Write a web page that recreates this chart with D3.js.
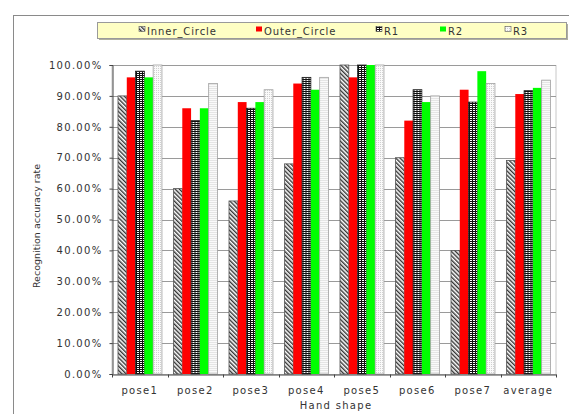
<!DOCTYPE html>
<html>
<head>
<meta charset="utf-8">
<script src="https://cdn.jsdelivr.net/npm/d3@7"></script>
<style>
  html, body { margin: 0; padding: 0; background: #fff; }
  svg { display: block; }
  text { font-family: "DejaVu Sans", sans-serif; fill: #333; }
</style>
</head>
<body>
<svg id="chart" width="569" height="414"></svg>
<script>
// Recognition accuracy per hand shape (percent)
const categories = ["pose1", "pose2", "pose3", "pose4", "pose5", "pose6", "pose7", "average"];
const seriesNames = ["Inner_Circle", "Outer_Circle", "R1", "R2", "R3"];
const innerCircle = [90, 60, 56, 68, 100, 70, 40, 69.1];
const outerCircle = [96, 86, 88, 94, 96, 82, 92, 90.6];
const r1 = [98, 82, 86, 96, 100, 92, 88, 91.7];
const r2 = [96, 86, 88, 92, 100, 88, 98, 92.6];
const r3 = [100, 94, 92, 96, 100, 90, 94, 95.1];
const yTicks = [0, 10, 20, 30, 40, 50, 60, 70, 80, 90, 100];
const xTitle = "Hand shape";
const yTitle = "Recognition accuracy rate";

const seriesValues = [innerCircle, outerCircle, r1, r2, r3];

const svg = d3.select("#chart");
const defs = svg.append("defs");

// Fill patterns for the monochrome series
const hatch = defs.append("pattern").attr("id", "hatch")
  .attr("patternUnits", "userSpaceOnUse").attr("width", 3).attr("height", 3)
  .attr("patternTransform", "rotate(-45)");
hatch.append("rect").attr("width", 3).attr("height", 3).attr("fill", "#fff");
hatch.append("rect").attr("width", 1.4).attr("height", 3).attr("fill", "#333");

const grid = defs.append("pattern").attr("id", "grid")
  .attr("patternUnits", "userSpaceOnUse").attr("width", 3).attr("height", 2);
grid.append("rect").attr("width", 3).attr("height", 2).attr("fill", "#111");
grid.append("rect").attr("x", 1).attr("y", 0).attr("width", 2).attr("height", 1).attr("fill", "#fff");

const dots = defs.append("pattern").attr("id", "dots")
  .attr("patternUnits", "userSpaceOnUse").attr("width", 2).attr("height", 2);
dots.append("rect").attr("width", 2).attr("height", 2).attr("fill", "#fafafa");
dots.append("rect").attr("width", 1).attr("height", 1).attr("fill", "#d0d0d0");

const fills = ["url(#hatch)", "#ff0000", "url(#grid)", "#00ff00", "url(#dots)"];
const strokes = ["#555", "none", "#222", "none", "#a0a0a0"];

// Outer chart frame
svg.append("rect").attr("x", 13.5).attr("y", 15.5).attr("width", 600).attr("height", 450)
  .attr("fill", "none").attr("stroke", "#8a8a8a");

const plot = { left: 112, right: 556, top: 65, bottom: 374 };

const x0 = d3.scaleBand().domain(categories).range([plot.left, plot.right]).padding(0);
const x1 = d3.scaleBand().domain(seriesNames)
  .range([x0.bandwidth() * 0.108, x0.bandwidth() * 0.9]).padding(0);
const y = d3.scaleLinear().domain([0, 100]).range([plot.bottom, plot.top]);

// Plot frame and gridlines
svg.append("rect").attr("x", plot.left).attr("y", plot.top + 0.5)
  .attr("width", plot.right - plot.left).attr("height", plot.bottom - plot.top)
  .attr("fill", "none").attr("stroke", "#c8c8c8");
svg.append("g").selectAll("line").data(yTicks.filter(t => t > 0)).join("line")
  .attr("x1", plot.left).attr("x2", plot.right)
  .attr("y1", d => Math.round(y(d)) + 0.5).attr("y2", d => Math.round(y(d)) + 0.5)
  .attr("stroke", "#9a9a9a");

// Bars
const groups = svg.append("g").selectAll("g").data(categories).join("g")
  .attr("transform", d => `translate(${x0(d)},0)`);
groups.selectAll("rect").data((c, i) => seriesNames.map((s, k) => ({ s, k, v: seriesValues[k][i] })))
  .join("rect")
  .attr("x", d => x1(d.s))
  .attr("width", x1.bandwidth())
  .attr("y", d => y(d.v))
  .attr("height", d => y(0) - y(d.v))
  .attr("fill", d => fills[d.k])
  .attr("stroke", d => strokes[d.k])
  .attr("stroke-width", 0.8);

// Y axis
const yAxis = d3.axisLeft(y).tickValues(yTicks).tickSize(3).tickPadding(7)
  .tickFormat(d => d3.format(".2%")(d / 100));
const gy = svg.append("g").attr("transform", `translate(${plot.left + 0.5},0)`).call(yAxis);
gy.select(".domain").attr("stroke", "#444");
gy.selectAll(".tick line").attr("stroke", "#444");
gy.selectAll(".tick text").attr("font-size", 10).attr("letter-spacing", 1.3)
  .attr("fill", "#444").attr("font-family", "DejaVu Sans, sans-serif");

// X axis
const xAxis = d3.axisBottom(x0).tickSize(0).tickPadding(12);
const gx = svg.append("g").attr("transform", `translate(0,${plot.bottom + 0.5})`).call(xAxis);
gx.select(".domain").attr("stroke", "#444");
gx.selectAll(".tick text").attr("font-size", 10).attr("letter-spacing", 1.3)
  .attr("fill", "#333").attr("font-family", "DejaVu Sans, sans-serif");
gx.append("g").selectAll("line").data(categories.concat([null])).join("line")
  .attr("x1", (d, i) => Math.round(plot.left + i * x0.step()) + 0.5)
  .attr("x2", (d, i) => Math.round(plot.left + i * x0.step()) + 0.5)
  .attr("y1", 0).attr("y2", 3).attr("stroke", "#444");

// Axis titles
svg.append("text").attr("x", 336).attr("y", 409).attr("text-anchor", "middle")
  .attr("font-size", 10).attr("letter-spacing", 1.3).text(xTitle);
svg.append("text").attr("transform", "translate(40,226) rotate(-90)")
  .attr("text-anchor", "middle").attr("font-size", 9.5).text(yTitle);

// Legend
const legend = svg.append("g");
legend.append("rect").attr("x", 99).attr("y", 24).attr("width", 469).attr("height", 16)
  .attr("fill", "#b0b0a0");
legend.append("rect").attr("x", 97.5).attr("y", 22.5).attr("width", 469).attr("height", 16)
  .attr("fill", "#ffffc4").attr("stroke", "#9a9a9a");
const legendX = [139, 256, 376, 440, 505];
const items = legend.selectAll("g.item").data(seriesNames).join("g").attr("class", "item")
  .attr("transform", (d, i) => `translate(${legendX[i]},0)`);
items.append("rect").attr("x", 0).attr("y", 26.5).attr("width", 6).attr("height", 5)
  .attr("fill", (d, i) => fills[i]).attr("stroke", (d, i) => strokes[i] === "none" ? "none" : "#555")
  .attr("stroke-width", 0.6);
items.append("text").attr("x", 8).attr("y", 34.5).attr("font-size", 10)
  .attr("letter-spacing", 0.9).attr("fill", "#333").text(d => d);
</script>
</body>
</html>
